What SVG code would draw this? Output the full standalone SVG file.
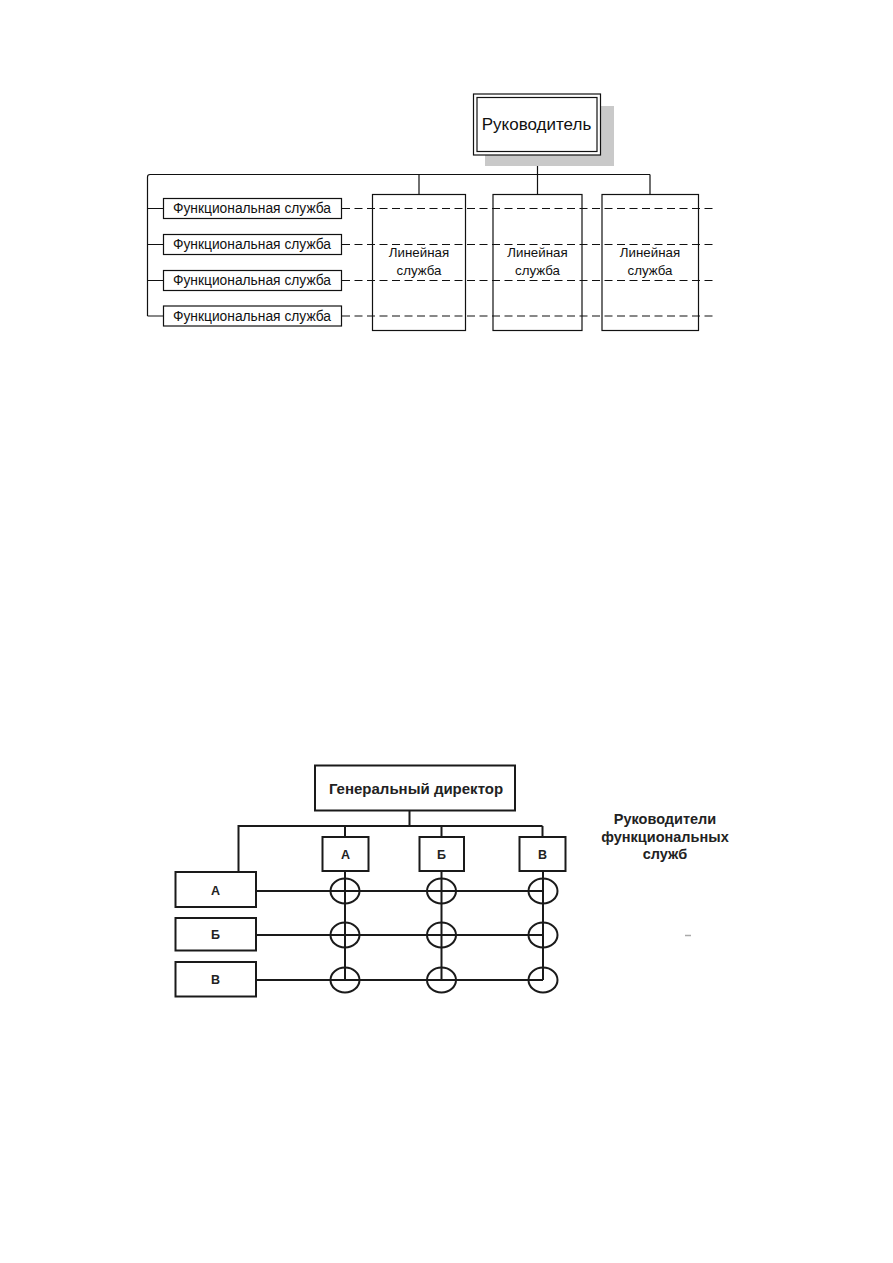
<svg xmlns="http://www.w3.org/2000/svg" width="893" height="1263" viewBox="0 0 893 1263">
<style>
.bg{fill:#ffffff}
.ln{fill:none;stroke:#111;stroke-width:1.2}
.dash{fill:none;stroke:#111;stroke-width:1.2;stroke-dasharray:8 4.5}
.box{fill:#ffffff;stroke:#111;stroke-width:1.2}
.t1{font-family:"Liberation Sans",Arial,sans-serif;fill:#111}
.ln2{fill:none;stroke:#1a1a1a;stroke-width:2}
.box2{fill:#ffffff;stroke:#1a1a1a;stroke-width:2}
.circ{fill:none;stroke:#1a1a1a;stroke-width:2}
.t2{font-family:"Liberation Sans",Arial,sans-serif;font-weight:bold;fill:#222}
</style>
<rect class="bg" x="0" y="0" width="893" height="1263"/>

<!-- ===== Top diagram ===== -->
<g id="connectors-top">
  <path class="ln" d="M537.5,155 V174.5 M150,174.5 H650 M147.5,177 V316 M147.5,177 Q147.5,174.5 150,174.5"/>
  <path class="ln" d="M419,174.5 V194.5 M537.5,174.5 V194.5 M650,174.5 V194.5"/>
  <path class="ln" d="M147.5,208.5 H163.5 M147.5,244.5 H163.5 M147.5,280.5 H163.5 M147.5,316 H163.5"/>
</g>

<g id="line-1"><rect class="box" x="372.5" y="194.5" width="93" height="136"/>
  <text class="t1" font-size="13.3" text-anchor="middle" x="419" y="257">Линейная</text>
  <text class="t1" font-size="13.3" text-anchor="middle" x="419" y="274.5">служба</text></g>
<g id="line-2"><rect class="box" x="493" y="194.5" width="89" height="136"/>
  <text class="t1" font-size="13.3" text-anchor="middle" x="537.5" y="257">Линейная</text>
  <text class="t1" font-size="13.3" text-anchor="middle" x="537.5" y="274.5">служба</text></g>
<g id="line-3"><rect class="box" x="602" y="194.5" width="96.5" height="136"/>
  <text class="t1" font-size="13.3" text-anchor="middle" x="650" y="257">Линейная</text>
  <text class="t1" font-size="13.3" text-anchor="middle" x="650" y="274.5">служба</text></g>

<g id="dashed-links">
  <path class="dash" d="M342,208.5 H713 M342,244.5 H713 M342,280.5 H713 M342,316 H713"/>
</g>

<g id="func-1"><rect class="box" x="163.5" y="198.5" width="178" height="20"/>
  <text class="t1" font-size="13.8" text-anchor="middle" x="252" y="213.3">Функциональная служба</text></g>
<g id="func-2"><rect class="box" x="163.5" y="234.5" width="178" height="20"/>
  <text class="t1" font-size="13.8" text-anchor="middle" x="252" y="249.3">Функциональная служба</text></g>
<g id="func-3"><rect class="box" x="163.5" y="270.5" width="178" height="20"/>
  <text class="t1" font-size="13.8" text-anchor="middle" x="252" y="285.3">Функциональная служба</text></g>
<g id="func-4"><rect class="box" x="163.5" y="306" width="178" height="20"/>
  <text class="t1" font-size="13.8" text-anchor="middle" x="252" y="320.8">Функциональная служба</text></g>

<g id="head">
  <rect x="485" y="106" width="129" height="60" fill="#c9c9c9"/>
  <rect class="box" x="473.5" y="94" width="127" height="61"/>
  <rect class="ln" x="477" y="97.5" width="120" height="54"/>
  <text class="t1" font-size="17" text-anchor="middle" x="536.5" y="130">Руководитель</text>
</g>

<!-- ===== Bottom diagram ===== -->
<g id="connectors-bottom">
  <path class="ln2" d="M409.5,810 V826 M238.5,826 H542.5 M238.5,825 V872 M345,826 V837 M441.5,826 V837 M542.5,826 V837"/>
  <path class="ln2" d="M256,891 H543 M256,935 H543 M256,980 H543"/>
  <path class="ln2" d="M345,871 V980 M441.5,871 V980 M543,871 V980"/>
</g>

<g id="gen-dir"><rect class="box2" x="315" y="765.5" width="200" height="45"/>
  <text class="t2" font-size="15" text-anchor="middle" x="416" y="793.5">Генеральный директор</text></g>

<g id="top-A"><rect class="box2" x="322.5" y="837" width="46" height="34"/>
  <text class="t2" font-size="12.5" text-anchor="middle" x="345.5" y="859">А</text></g>
<g id="top-B"><rect class="box2" x="419.5" y="837" width="44.5" height="34"/>
  <text class="t2" font-size="12.5" text-anchor="middle" x="441.5" y="859">Б</text></g>
<g id="top-V"><rect class="box2" x="519.5" y="837" width="46" height="34"/>
  <text class="t2" font-size="12.5" text-anchor="middle" x="542.5" y="859">В</text></g>

<g id="left-A"><rect class="box2" x="175.5" y="872" width="80.5" height="35"/>
  <text class="t2" font-size="12.5" text-anchor="middle" x="215.5" y="894.5">А</text></g>
<g id="left-B"><rect class="box2" x="175.5" y="918" width="80.5" height="32.5"/>
  <text class="t2" font-size="12.5" text-anchor="middle" x="215.5" y="939">Б</text></g>
<g id="left-V"><rect class="box2" x="175.5" y="962" width="80.5" height="34.5"/>
  <text class="t2" font-size="12.5" text-anchor="middle" x="215.5" y="984">В</text></g>

<g id="nodes-grid">
  <ellipse class="circ" cx="345" cy="891" rx="14.5" ry="12.5"/>
  <ellipse class="circ" cx="441.5" cy="891" rx="14.5" ry="12.5"/>
  <ellipse class="circ" cx="543" cy="891" rx="14.5" ry="12.5"/>
  <ellipse class="circ" cx="345" cy="935" rx="14.5" ry="12.5"/>
  <ellipse class="circ" cx="441.5" cy="935" rx="14.5" ry="12.5"/>
  <ellipse class="circ" cx="543" cy="935" rx="14.5" ry="12.5"/>
  <ellipse class="circ" cx="345" cy="980" rx="14.5" ry="12.5"/>
  <ellipse class="circ" cx="441.5" cy="980" rx="14.5" ry="12.5"/>
  <ellipse class="circ" cx="543" cy="980" rx="14.5" ry="12.5"/>
</g>

<g id="legend">
  <text class="t2" font-size="14.5" text-anchor="middle" x="665" y="824">Руководители</text>
  <text class="t2" font-size="14.5" text-anchor="middle" x="665" y="841.5">функциональных</text>
  <text class="t2" font-size="14.5" text-anchor="middle" x="665" y="859">служб</text>
</g>
<line x1="685" y1="935.5" x2="691" y2="935.5" stroke="#aaa" stroke-width="1.5"/>
</svg>
